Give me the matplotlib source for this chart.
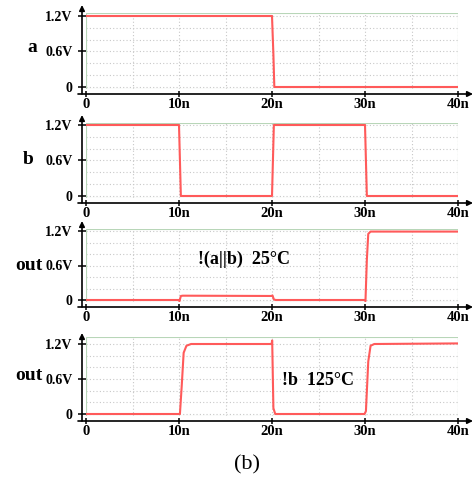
import matplotlib

matplotlib.use("Agg")
import matplotlib.pyplot as plt
import matplotlib.transforms as mtransforms
from matplotlib.patches import Rectangle


# waveforms, time in ns, voltage in V
A_T = [0, 20.0, 20.15, 20.25, 40]
A_V = [1.2, 1.2, 0.55, 0.0, 0.0]

B_T = [0, 10.0, 10.2, 20.0, 20.2, 30.0, 30.2, 40]
B_V = [1.2, 1.2, 0.0, 0.0, 1.2, 1.2, 0.0, 0.0]

OUT25_T = [0, 9.95, 10.05, 10.2, 10.4, 19.95, 20.05, 20.2, 20.4,
           29.95, 30.05, 30.2, 30.35, 30.6, 40]
OUT25_V = [0.0, 0.0, -0.02, 0.07, 0.075, 0.07, 0.08, 0.01, 0.0,
           0.0, -0.02, 0.7, 1.15, 1.19, 1.19]

OUT125_T = [0, 10.1, 10.3, 10.5, 10.8, 11.3, 19.95, 20.02, 20.15, 20.35,
            29.95, 30.1, 30.35, 30.6, 31.0, 40]
OUT125_V = [0.0, 0.0, 0.5, 1.05, 1.17, 1.2, 1.2, 1.26, 0.1, 0.0,
            0.0, 0.05, 0.9, 1.17, 1.2, 1.21]

X_TICKS = [0, 10, 20, 30, 40]
X_LABELS = ["0", "10n", "20n", "30n", "40n"]
Y_TICKS = [0, 0.6, 1.2]
Y_LABELS = ["0", "0.6V", "1.2V"]

NAMES = ["a", "b", "out", "out"]
SERIES = [(A_T, A_V), (B_T, B_V), (OUT25_T, OUT25_V), (OUT125_T, OUT125_V)]

W, H = 473, 487
# box top, box bottom, y of 1.2V, y of 0 (pixels), arrow extension
PANELS = [(13, 89, 16, 87, 8), (123, 198, 125, 196, 8),
          (229, 302, 231, 300, 8), (337, 416, 344, 414, 4)]
NAME_POS = [(32, 48), (28, 159), (29, 266), (29, 375)]
BOX_L, BOX_R = 86, 458

RED = "#ff5a5a"
SERIF = "Liberation Serif"

fig = plt.figure(figsize=(W / 100, H / 100), dpi=100)


def px(dx, dy):
    return mtransforms.ScaledTranslation(dx / 100, dy / 100, fig.dpi_scale_trans)


for i, (top, bot, y12, y0, ext) in enumerate(PANELS):
    ax = fig.add_axes([BOX_L / W, 1 - bot / H, (BOX_R - BOX_L) / W, (bot - top) / H])
    scale = (y0 - y12) / 1.2
    ax.set_ylim(-(bot - y0) / scale, 1.2 + (y12 - top) / scale)
    ax.set_xlim(0, 40)

    t, v = SERIES[i]
    ax.plot(t, v, color=RED, lw=1.5, zorder=3)

    ax.set_xticks(X_TICKS)
    ax.set_xticklabels(X_LABELS)
    ax.set_yticks(Y_TICKS)
    ax.set_yticklabels(Y_LABELS)
    ax.set_xticks([5, 15, 25, 35], minor=True)
    ax.set_yticks([0.2, 0.4, 0.8, 1.0], minor=True)
    ax.grid(True, which="both", color="#c8c8c8", lw=0.8, ls=(0, (1, 2)))
    ax.tick_params(which="minor", length=0)

    for s in ax.spines.values():
        s.set_visible(False)
    ax.spines["left"].set_position(("outward", 4 * 0.72))
    ax.spines["bottom"].set_position(("outward", 5 * 0.72))
    ax.tick_params(axis="y", which="major", direction="inout", length=5.8,
                   width=1.1, pad=4.0)
    ax.tick_params(axis="x", which="major", direction="inout", length=4,
                   width=1.1, pad=0.8)
    for lab in ax.get_yticklabels():
        lab.set_fontfamily(SERIF)
        lab.set_fontweight("bold")
        lab.set_fontsize(10)
    for lab in ax.get_xticklabels():
        lab.set_fontfamily(SERIF)
        lab.set_fontweight("bold")
        lab.set_fontsize(10.5)

    ax.add_patch(Rectangle((0, 0), 1, 1, transform=ax.transAxes, fill=False,
                           ec="#b8d6b8", lw=0.8, zorder=2))

    # black axes with arrows
    arrow = dict(arrowstyle="-|>", mutation_scale=8, lw=1.2, color="k",
                 shrinkA=0, shrinkB=0)
    ax.annotate("", xy=(0, 1), xycoords=ax.transAxes + px(-4, ext),
                xytext=(0, 0), textcoords=ax.transAxes + px(-4, -5),
                arrowprops=arrow, annotation_clip=False)
    ax.annotate("", xy=(1, 0), xycoords=ax.transAxes + px(15, -5),
                xytext=(0, 0), textcoords=ax.transAxes + px(-8, -5),
                arrowprops=arrow, annotation_clip=False)

    nx, ny = NAME_POS[i]
    fig.text(nx / W, 1 - ny / H, NAMES[i], family=SERIF, weight="bold",
             fontsize=14, ha="center", va="center")

    if i == 2:
        ax.text(12.0, 0.70, "!(a||b)  25°C", family=SERIF, weight="bold",
                fontsize=13, ha="left", va="center")
    if i == 3:
        ax.text(21.1, 0.58, "!b  125°C", family=SERIF, weight="bold",
                fontsize=13, ha="left", va="center")

fig.text(247 / W, 1 - 465 / H, "(b)", family=SERIF, fontsize=16,
         ha="center", va="center")

fig.savefig("out.png", dpi=100)
